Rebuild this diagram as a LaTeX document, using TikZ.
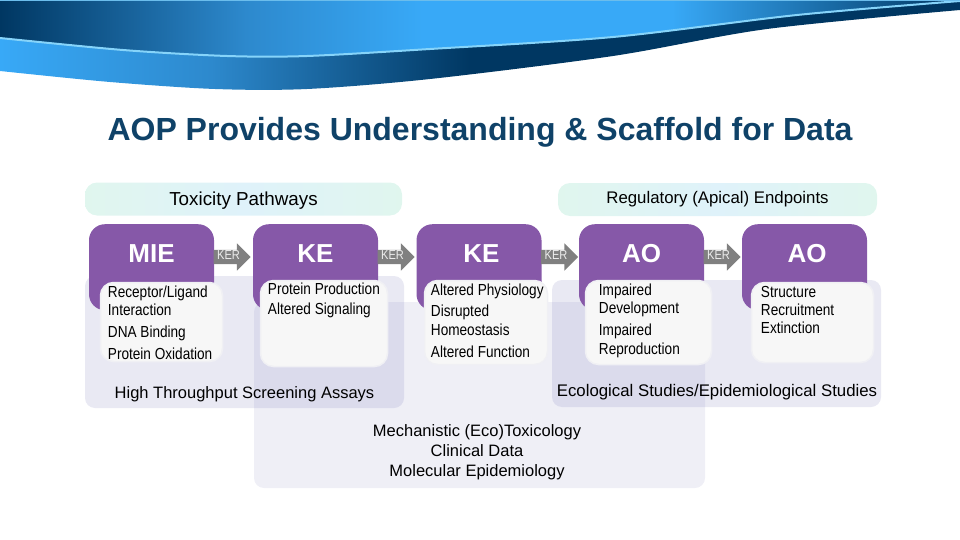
\documentclass[tikz,border=0pt]{standalone}
\usepackage{fontspec}
\setmainfont{Liberation Sans}
\newfontfamily\narrowfont[FakeStretch=0.85]{Liberation Sans}
\usetikzlibrary{shapes.arrows,calc}
\definecolor{sky}{HTML}{38A9F7}
\definecolor{navy}{HTML}{003762}
\definecolor{midblue}{HTML}{2D89CD}
\definecolor{swooshline}{HTML}{86D4FA}
\definecolor{titleblue}{HTML}{0F4268}
\definecolor{purpleblock}{HTML}{8658A8}
\definecolor{lavender}{HTML}{6A6AB0}
\definecolor{mint}{HTML}{E0F6EE}
\definecolor{paleblue}{HTML}{DFF2FA}
\definecolor{boxwhite}{HTML}{F7F7F7}
\definecolor{boxedge}{HTML}{F0F0F4}
\definecolor{kergray}{HTML}{808080}
\pgfdeclarehorizontalshading{upperband}{100bp}{color(0bp)=(navy); color(25bp)=(navy);
    color(37.8bp)=(midblue); color(47bp)=(sky); color(60bp)=(sky); color(75bp)=(navy); color(100bp)=(navy)}
\pgfdeclarehorizontalshading{lowerband}{100bp}{color(0bp)=(sky); color(25bp)=(sky);
    color(36bp)=(midblue); color(49.5bp)=(navy); color(100bp)=(navy)}

\begin{document}
\begin{tikzpicture}[
    x=1pt,y=-1pt,
    inner sep=0pt,
    pill/.style={rounded corners=12pt,left color=mint,right color=mint,middle color=paleblue,
        minimum height=33pt},
    overlay/.style={rounded corners=10pt,fill=lavender},
    block/.style={rounded corners=16pt,fill=purpleblock,text=white,minimum width=125pt,
        text height=38pt,text depth=48pt,font=\fontsize{26}{28}\selectfont\bfseries},
    listbox/.style={rounded corners=13pt,fill=boxwhite,draw=boxedge,line width=1.5pt},
    listtext/.style={anchor=north west,align=left,font=\narrowfont\fontsize{16}{18}\selectfont},
    studytext/.style={font=\fontsize{16.5}{20}\selectfont},
    kerarrow/.style={single arrow,fill=kergray,text=white!85!kergray,minimum height=37pt,
        minimum width=27pt,single arrow head extend=6.5pt,single arrow head indent=0pt,
        shape border rotate=0,text height=9pt,text depth=5pt,
        font=\narrowfont\fontsize{13}{14}\selectfont},
    ]
    \useasboundingbox (0,0) rectangle (960,540);

    % header swoosh
    \path[shading=lowerband] (0,38) -- (0,71)
        -- plot[smooth] coordinates {(0,71) (110,82) (215,89) (307,89) (430,79) (613,56) (767,29) (960,10)}
        -- (960,0) -- cycle;
    \path[shading=upperband] (0,0) -- (0,38)
        -- plot[smooth] coordinates {(0,38) (123,50) (227,56) (307,56) (430,49) (613,37) (797,15) (960,1)}
        -- (960,0) -- cycle;
    \draw[swooshline,line width=2pt] plot[smooth] coordinates
        {(0,38) (123,50) (227,56) (307,56) (430,49) (613,37) (797,15) (960,1)};
    \draw[swooshline!70!midblue,line width=1pt] (0,0.5) -- (960,0.5);

    \node[text=titleblue,font=\fontsize{32}{34}\selectfont\bfseries] (title) at (480,132)
        {AOP Provides Understanding \& Scaffold for Data};

    \node[pill,minimum width=317pt,font=\fontsize{18.8}{20}\selectfont] (toxicity) at (243.5,199) {\raisebox{-6.5pt}[0pt][0pt]{Toxicity Pathways}};
    \node[pill,minimum width=319pt,font=\fontsize{16.8}{18}\selectfont] (regulatory) at (717.5,199.5) {\raisebox{-3.5pt}[0pt][0pt]{Regulatory (Apical) Endpoints}};

    % assay backgrounds
    \node[overlay,fill opacity=.11,minimum width=451pt,minimum height=186pt] (mechbg) at (479.5,395) {};
    \node[overlay,fill opacity=.15,minimum width=319pt,minimum height=132pt] (htsbg) at (244.5,342) {};
    \node[overlay,fill opacity=.15,minimum width=329pt,minimum height=127pt] (ecobg) at (716.5,343.5) {};

    \node[block] (mie) at (151.5,224) [anchor=north] {MIE};
    \node[block] (kea) at (315.5,224) [anchor=north] {KE};
    \node[block] (keb) at (479,224) [anchor=north] {\hspace{5pt}KE};
    \node[block] (aoa) at (641.5,224) [anchor=north] {AO};
    \node[block] (aob) at (804.5,224) [anchor=north] {\hspace{5pt}AO};

    \node[kerarrow] (kera) at (228.5,257) {KER};
    \node[kerarrow] (kerb) at (392.5,257) {KER};
    \node[kerarrow] (kerc) at (556,257) {KER};
    \node[kerarrow] (kerd) at (718.5,257) {KER};

    \node[listbox,minimum width=122pt,minimum height=79pt] (miebox) at (161.5,322) {};
    \node[listbox,minimum width=127pt,minimum height=86pt] (keabox) at (324,323.5) {};
    \node[listbox,minimum width=123pt,minimum height=84pt] (kebbox) at (486,322.5) {};
    \node[listbox,minimum width=126pt,minimum height=84pt] (aoabox) at (648.5,322.5) {};
    \node[listbox,minimum width=122pt,minimum height=80pt] (aobbox) at (812.5,322.5) {};

    \node[listtext] (mietext) at ($(miebox.north west)+(8,4)$)
        {Receptor/Ligand\\Interaction\\[4pt]DNA Binding\\[4pt]Protein Oxidation};
    \node[listtext] (keatext) at ($(keabox.north west)+(8,3)$)
        {Protein Production\\[2pt]Altered Signaling};
    \node[listtext] (kebtext) at ($(kebbox.north west)+(7,4)$)
        {Altered Physiology\\[3pt]Disrupted\\[1pt]Homeostasis\\[4pt]Altered Function};
    \node[listtext] (aoatext) at ($(aoabox.north west)+(14,4)$)
        {Impaired\\Development\\[4pt]Impaired\\[1pt]Reproduction};
    \node[listtext] (aobtext) at ($(aobbox.north west)+(10,4)$)
        {Structure\\Recruitment\\Extinction};

    \node[studytext] (hts) at (244.5,394) {High Throughput Screening Assays};
    \node[studytext,font=\fontsize{16.8}{20}\selectfont] (eco) at (717,392) {Ecological Studies/Epidemiological Studies};
    \node[studytext,align=center] (mech) at (477,452)
        {Mechanistic (Eco)Toxicology\\Clinical Data\\Molecular Epidemiology};
\end{tikzpicture}
\end{document}
